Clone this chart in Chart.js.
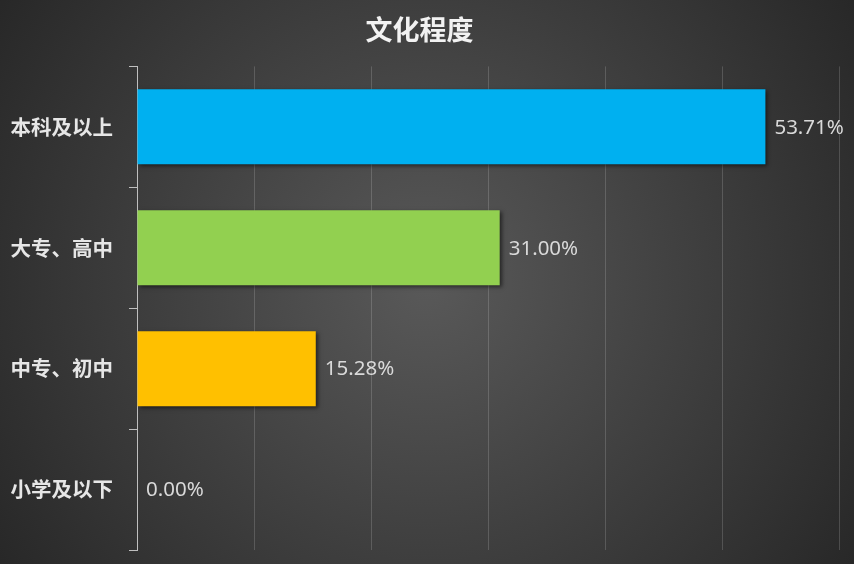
<!DOCTYPE html>
<html>
<head>
<meta charset="utf-8">
<script src="https://cdn.jsdelivr.net/npm/chart.js@4/dist/chart.umd.min.js"></script>
<style>
  html, body { margin: 0; padding: 0; background: #2b2b2b; }
  #wrap { width: 854px; height: 564px; }
</style>
</head>
<body>
<div id="wrap"><canvas id="edu-chart"></canvas></div>
<script>
// --- Data ---
const categories = ['本科及以上', '大专、高中', '中专、初中', '小学及以下'];
const percentages = [53.71, 31.00, 15.28, 0.00];
const barColors = ['#00B0F0', '#92D050', '#FFC000', '#A5A5A5'];
const chartTitle = '文化程度';

(function () {
    const canvasElement = document.getElementById('edu-chart');
    const cjk = '"Noto Sans CJK SC", "Noto Sans", sans-serif';

    // dark radial background, lighter in the middle
    const backgroundPlugin = {
        id: 'radialBg',
        beforeDraw: function (chart) {
            const ctx = chart.ctx;
            const w = chart.width, h = chart.height;
            const g = ctx.createRadialGradient(w * 0.5, h * 0.5, 0, w * 0.5, h * 0.5, w * 0.62);
            g.addColorStop(0, '#595959');
            g.addColorStop(1, '#262626');
            ctx.save();
            ctx.fillStyle = g;
            ctx.fillRect(0, 0, w, h);
            ctx.restore();
        }
    };

    // soft drop shadow under the bars
    const shadowPlugin = {
        id: 'barShadow',
        beforeDatasetsDraw: function (chart) {
            const ctx = chart.ctx;
            ctx.save();
            ctx.shadowColor = 'rgba(0,0,0,0.55)';
            ctx.shadowBlur = 4;
            ctx.shadowOffsetX = 2;
            ctx.shadowOffsetY = 2;
        },
        afterDatasetsDraw: function (chart) {
            chart.ctx.restore();
        }
    };

    // value labels at the end of each bar
    const valueLabelPlugin = {
        id: 'valueLabels',
        afterDatasetsDraw: function (chart) {
            const ctx = chart.ctx;
            const meta = chart.getDatasetMeta(0);
            ctx.save();
            ctx.font = '20.5px "Noto Sans", "Noto Sans CJK SC", sans-serif';
            ctx.fillStyle = '#d9d9d9';
            ctx.textAlign = 'left';
            ctx.textBaseline = 'middle';
            meta.data.forEach(function (bar, i) {
                ctx.fillText(percentages[i].toFixed(2) + '%', bar.x + 9, bar.y + 1);
            });
            ctx.restore();
        }
    };

    const config = {
        type: 'bar',
        data: {
            labels: categories,
            datasets: [{
                data: percentages,
                backgroundColor: barColors,
                borderWidth: 0,
                categoryPercentage: 0.62,
                barPercentage: 1.0
            }]
        },
        options: {
            indexAxis: 'y',
            responsive: true,
            maintainAspectRatio: false,
            animation: false,
            devicePixelRatio: 1,
            layout: { padding: { left: 0, right: 15, top: 0, bottom: 14 } },
            scales: {
                x: {
                    min: 0,
                    max: 60,
                    ticks: { display: false, stepSize: 10 },
                    grid: { color: 'rgba(255,255,255,0.16)', lineWidth: 1, drawTicks: false },
                    border: { display: false },
                    afterFit: function (scale) { scale.height = 0; }
                },
                y: {
                    grid: {
                        drawOnChartArea: false,
                        drawTicks: true,
                        tickLength: 8,
                        color: '#bfbfbf',
                        lineWidth: 1
                    },
                    border: { color: '#bfbfbf', width: 1 },
                    ticks: {
                        color: '#e6e6e6',
                        padding: 16,
                        font: { family: cjk, size: 20.5, weight: 'bold' }
                    },
                    afterFit: function (scale) {
                        scale.width = 137;
                        scale.paddingTop = 0;
                        scale.paddingBottom = 0;
                    }
                }
            },
            plugins: {
                legend: { display: false },
                tooltip: { enabled: false },
                title: {
                    display: true,
                    text: chartTitle,
                    color: '#f2f2f2',
                    font: { family: cjk, size: 27, weight: 'bold' },
                    padding: { top: 14, bottom: 20 }
                }
            }
        },
        plugins: [backgroundPlugin, shadowPlugin, valueLabelPlugin]
    };

    new Chart(canvasElement, config);
})();
</script>
</body>
</html>
